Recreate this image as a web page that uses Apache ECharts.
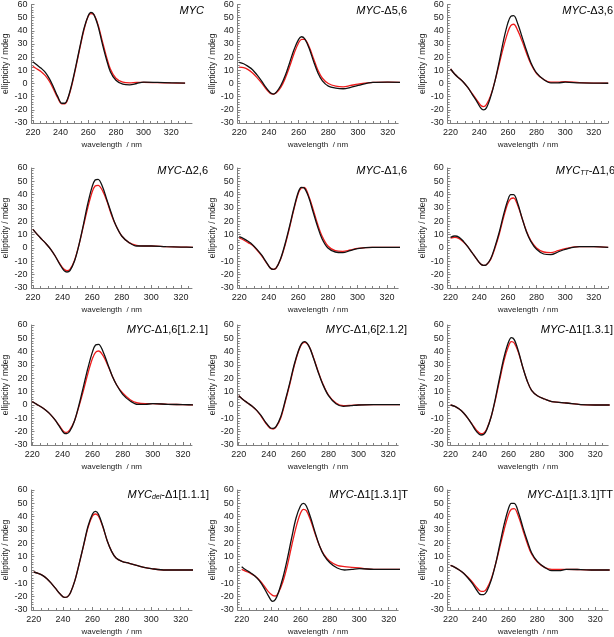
<!DOCTYPE html>
<html><head><meta charset="utf-8">
<script src="https://cdn.jsdelivr.net/npm/echarts@6/dist/echarts.min.js"></script>
<style>html,body{margin:0;padding:0;background:#fff}#c{width:614px;height:637px}</style>
</head><body><div id="c"></div>
<script>
// ---- data ----
const wavelengths = [220,223,226,229,232,235,238,241,243,245,248,251,254,257,260,262,264,267,270,273,276,280,285,290,295,300,310,320,330];
const xTickLabels = [220,240,260,280,300,320];
const xMinorTicks = [225,230,235,245,250,255,265,270,275,285,290,295,305,310,315,325,330];
const yTickLabels = [-30,-20,-10,0,10,20,30,40,50,60];
const panelTitles = [
  '{i|MYC}',
  '{i|MYC}-Δ5,6',
  '{i|MYC}-Δ3,6',
  '{i|MYC}-Δ2,6',
  '{i|MYC}-Δ1,6',
  '{i|MYC}{s|TT}-Δ1,6',
  '{i|MYC}-Δ1,6[1.2.1]',
  '{i|MYC}-Δ1,6[2.1.2]',
  '{i|MYC}-Δ1[1.3.1]',
  '{i|MYC}{s|del}-Δ1[1.1.1]',
  '{i|MYC}-Δ1[1.3.1]T',
  '{i|MYC}-Δ1[1.3.1]TT'
];
const xAxisName = 'wavelength  / nm';
const yAxisName = 'ellipticity / mdeg';

const myc_black   = [16.5,14,11.5,8.5,3.5,-3,-10,-15,-15,-12,-1,13,28,42,51.5,54,52.5,44,31,19,9,2.5,-0.5,-1,0,1,0.8,0.5,0.3];
const myc_red     = [13,11,9,6,1.5,-4.5,-11,-15.5,-15.5,-12.5,-2,12,27,41,51,53,52.5,45,33,21,11,4,1,0.5,0.8,0.8,0.6,0.4,0.3];
const d56_black   = [16,15,13,10.5,6.5,2,-3,-7,-8,-6.5,-1.5,6,16,26,33.5,35.5,34,27,17,8,2,-2,-3.5,-4,-3,-1.5,0.8,1,0.8];
const d56_red     = [12.5,12,10.5,8,4.5,0.5,-4,-7.5,-8,-7,-3,4,13,23,31,33.5,33.5,28,19,10,4,0,-2,-2.5,-1.5,-0.5,0.8,1,0.8];
const d36_black   = [11,7,4,1,-3,-8,-13,-18.5,-20,-18.5,-10,2,17,33,46,51,51.5,45,35,25,16,8,3,0.5,0.5,1,0.5,0.3,0.2];
const d36_red     = [11,7,4,1,-3,-7.5,-12,-16.5,-17.5,-16,-9,2,15,28,39,44,45,40,32,23,15,7.5,3,1,1,1.5,0.7,0.3,0.2];
const d26_black   = [14,10,6.5,3,-1,-6,-12,-17,-18,-17,-10,2,17,33,46,51,51.5,46,36,26,17,9,4,1.5,1.5,1.5,1,0.7,0.5];
const d26_red     = [14,10,6.5,3,-1,-6,-11.5,-16,-17,-16,-9.5,2,16,30,42,46.5,47,43,35,25,17,9,4,2,1.5,1.5,1,0.7,0.5];
const d16_black   = [8.5,7,5,2.5,-1,-5,-10,-15,-16,-15,-8,3,16,30,42,45.5,45,38,27,16,7,0,-3,-3.5,-2,-0.5,0.5,0.5,0.5];
const d16_red     = [7.5,6,4,2,-1.5,-5.5,-10.5,-15,-16,-15,-8.5,2,15,29,41,45,45.5,39,29,18,9,1.5,-2,-2.5,-1.5,-0.3,0.5,0.5,0.5];
const tt16_black  = [8,9,8,5,1,-3.5,-8,-12,-13,-12.5,-8,1,12,25,36,40,40,33,22,12,5,-1,-4.5,-5,-3,-1,1,1,0.5];
const tt16_red    = [7.5,8,7,4.5,1,-3.5,-8,-12,-13,-12.5,-8.5,0,10.5,23,33.5,37,37.5,31.5,22,12.5,5.5,0,-3,-3.5,-2,-0.5,1,1,0.5];
const d16a_black  = [2.5,0.5,-1.5,-4,-7,-11,-16,-21,-21.5,-19.5,-12,0,14,28,40,45,45.5,40,31,22,15,8,3,0.5,0.5,1,0.5,0.3,0];
const d16a_red    = [2.5,0.5,-1.5,-4,-7,-11,-15.5,-20,-20.5,-18.5,-12,-1,11,24,35,39.5,40.5,37,30,22,15,9,4,1.5,1,1,0.5,0.3,0];
const d16b_black  = [7,4,1.5,-1,-4,-8,-13,-17,-17.5,-16,-9,3,16,30,41,46,47.5,44,35,25,16,7,1,-1,-0.5,0,0.3,0.3,0.3];
const d16b_red    = [7,4,1.5,-1,-4,-8.5,-13.5,-17.5,-18,-16.5,-10,2,15,29,40.5,45.5,47,44,35.5,25.5,16.5,7.5,1.5,-0.5,-0.3,0,0.3,0.3,0.3];
const d1a_black   = [0,-1,-3,-6,-10,-15,-20,-22.5,-22,-18.5,-9,5,21,36,47,50.5,49,40,28,18,11,7,4.5,2.5,2,1.5,0.3,0,0];
const d1a_red     = [0,-1,-3,-6,-10,-14.5,-19,-21.5,-21,-18,-9,4,19,33.5,44,47.5,46.5,39,28,18,11,7,4.5,2.5,2,1.5,0.3,0,0];
const del_black   = [-1.5,-2.5,-4,-6.5,-10,-14,-18,-20.5,-20,-17,-8,5,19,33,42,44,42,33,22,14,9,6.5,5,3.5,2,1,0,0,0];
const del_red     = [-1.5,-2.5,-4,-6.5,-10,-14,-18,-20.5,-20,-17,-8,5,18.5,32,40.5,42,40.5,32.5,22,14,9,6.5,5,3.5,2,1,0,0,0];
const t_black     = [2.5,0,-2,-4.5,-8,-13,-19,-23.5,-22,-17,-6,8,24,39,48,50,48,39,28,18,11,5.5,1.5,0,0.5,1,0.5,0.5,0.5];
const t_red       = [0.5,-1,-2.5,-4.5,-7.5,-11.5,-16,-19,-19.5,-17,-9,3,18,32,42.5,45.5,44.5,37,27,18,11.5,6.5,3.5,2.5,2,1.5,0.5,0.5,0.5];
const tt_black    = [3.5,2,0,-2.5,-6,-10,-15,-18.5,-18.5,-16,-8,4,19,34,46,50,50,43,32,22,13,6.5,2,-0.5,-0.5,0.5,0.3,0,0];
const tt_red      = [3.5,2,0,-2.5,-5.5,-9,-13,-16,-16,-14,-7,4,17,30,41.5,45.5,46,40,30,20,12,6,2,0.5,0.5,0.5,0.3,0,0];

const blackSeries = [myc_black,d56_black,d36_black,d26_black,d16_black,tt16_black,d16a_black,d16b_black,d1a_black,del_black,t_black,tt_black];
const redSeries   = [myc_red,d56_red,d36_red,d26_red,d16_red,tt16_red,d16a_red,d16b_red,d1a_red,del_red,t_red,tt_red];

// ---- layout ----
const colLeft = [31.5, 237.7, 447.7];
const plotW = 160.5;
const rowTop = [4, 168, 325, 490];
const rowH = [119, 120, 120, 121];
const titleOffset = [1, -3, -1, -1];
const xRange = [[219,335],[219,327],[218,330],[219,327.5],[219,327.5],[218,330],[219.5,326],[219.3,326.6],[218,329],[218.5,327.7],[217.3,326.5],[218,329]];
const titleRight = [204,407,613,208,407,615,208,407,613,209,408,613];

const FONT = '"Liberation Sans", Arial, sans-serif';
const AX = '#808080';
const TXT = '#222';

const grid = [], xAxis = [], yAxis = [], series = [], title = [];
for (let p = 0; p < 12; p++) {
  const r = Math.floor(p / 3), c = p % 3;
  grid.push({left: colLeft[c], top: rowTop[r], width: plotW, height: rowH[r], containLabel: false});
  // major x axis
  xAxis.push({
    type: 'value', gridIndex: p, min: xRange[p][0], max: xRange[p][1],
    name: xAxisName, nameLocation: 'middle', nameGap: 18,
    nameTextStyle: {fontSize: 8, color: TXT, fontFamily: FONT},
    axisLine: {show: true, onZero: false, lineStyle: {color: AX, width: 1}},
    axisTick: {show: true, inside: true, length: 3, customValues: xTickLabels, lineStyle: {color: AX}},
    axisLabel: {show: true, customValues: xTickLabels, fontSize: 9, color: TXT, fontFamily: FONT, margin: 5},
    splitLine: {show: false}
  });
  // minor x ticks
  xAxis.push({
    type: 'value', gridIndex: p, min: xRange[p][0], max: xRange[p][1], position: 'bottom',
    axisLine: {show: false, onZero: false},
    axisTick: {show: true, inside: true, length: 2, customValues: xMinorTicks, lineStyle: {color: AX}},
    axisLabel: {show: false}, splitLine: {show: false}
  });
  yAxis.push({
    type: 'value', gridIndex: p, min: -30, max: 60, interval: 10,
    name: yAxisName, nameLocation: 'middle', nameGap: 21,
    nameTextStyle: {fontSize: 8.5, color: TXT, fontFamily: FONT},
    axisLine: {show: true, onZero: false, lineStyle: {color: AX, width: 1}},
    axisTick: {show: true, inside: true, length: 3, lineStyle: {color: AX}},
    minorTick: {show: true, splitNumber: 5, length: 2, lineStyle: {color: AX}},
    axisLabel: {fontSize: 9, color: TXT, fontFamily: FONT, margin: 4},
    splitLine: {show: false}
  });
  const mk = (arr, color) => ({
    type: 'line', xAxisIndex: 2 * p, yAxisIndex: p,
    data: wavelengths.map((w, i) => [w, arr[i]]),
    smooth: 0.35, symbol: 'none', clip: true,
    lineStyle: {color: color, width: 1.3}, z: color === '#111' ? 3 : 2
  });
  series.push(mk(blackSeries[p], '#111'));
  series.push(mk(redSeries[p], '#ee1b1b'));
  title.push({
    text: panelTitles[p], right: 614 - titleRight[p], top: rowTop[r] + titleOffset[r], padding: 0,
    textStyle: {
      fontSize: 11, fontWeight: 'normal', color: '#000', fontFamily: FONT,
      rich: {
        i: {fontSize: 11, fontStyle: 'italic', color: '#000', fontFamily: FONT},
        s: {fontSize: 7, fontStyle: 'italic', color: '#000', fontFamily: FONT, padding: [5, 0, 0, 0]}
      }
    }
  });
}

const chart = echarts.init(document.getElementById('c'), null, {renderer: 'canvas'});
chart.setOption({animation: false, backgroundColor: '#fff', title, grid, xAxis, yAxis, series});
</script></body></html>
